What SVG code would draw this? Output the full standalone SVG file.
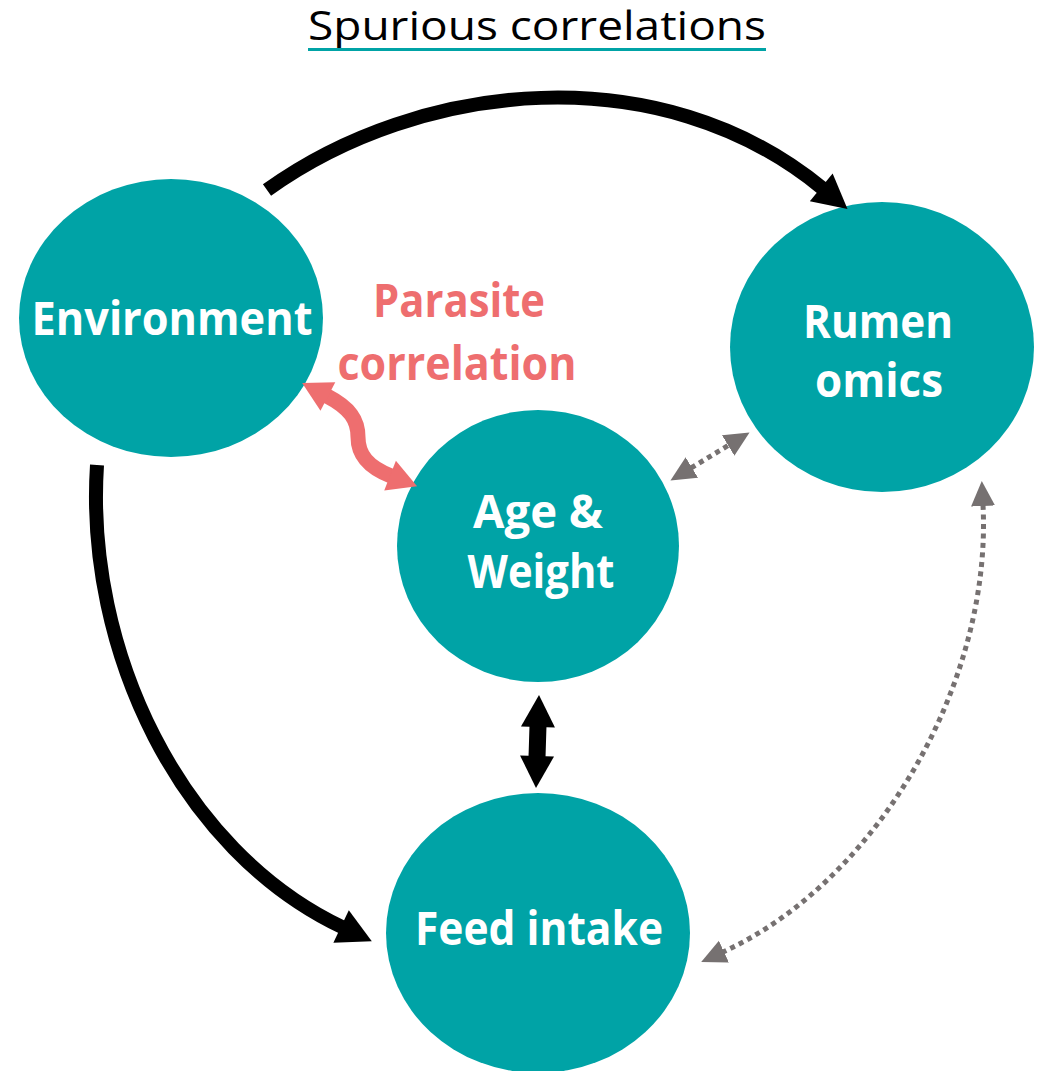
<svg xmlns="http://www.w3.org/2000/svg" width="1051" height="1071" viewBox="0 0 1051 1071">
<style>
.node{fill:#00A3A6;}
.lbl{font-family:"Open Sans","Liberation Sans",Arial,sans-serif;font-weight:bold;font-size:46px;fill:#FFFFFF;text-anchor:middle;}
.red{font-family:"Open Sans","Liberation Sans",Arial,sans-serif;font-weight:bold;font-size:46px;fill:#EE6E6F;text-anchor:middle;}
.title{font-family:"Open Sans","Liberation Sans",Arial,sans-serif;font-size:40px;fill:#000000;text-anchor:middle;}
.blk{fill:none;stroke:#000000;stroke-width:14;}
.dot{fill:none;stroke:#767171;stroke-width:5;stroke-dasharray:5 4.5;}
</style>
<defs>
<marker id="ahBlack" markerUnits="userSpaceOnUse" markerWidth="40" markerHeight="40" viewBox="0 -20 36 40" refX="1" refY="0" orient="auto-start-reverse"><path d="M0,-18 L34,0 L0,18 z" fill="#000000"/></marker>
<marker id="ahBlack2" markerUnits="userSpaceOnUse" markerWidth="40" markerHeight="40" viewBox="0 -20 36 40" refX="1" refY="0" orient="auto-start-reverse"><path d="M0,-17 L32,0 L0,17 z" fill="#000000"/></marker>
<marker id="ahRed" markerUnits="userSpaceOnUse" markerWidth="40" markerHeight="40" viewBox="0 -20 36 40" refX="1" refY="0" orient="auto-start-reverse"><path d="M0,-16 L29,0 L0,16 z" fill="#EE6E6F"/></marker>
<marker id="ahGray" markerUnits="userSpaceOnUse" markerWidth="30" markerHeight="30" viewBox="0 -15 30 30" refX="1" refY="0" orient="auto-start-reverse"><path d="M0,-12 L25,0 L0,12 z" fill="#767171"/></marker>
</defs>

<g id="title">
<text class="title" x="537" y="40" textLength="458" lengthAdjust="spacingAndGlyphs">Spurious correlations</text>
<rect x="308" y="48" width="458" height="3" fill="#00A3A6"/>
</g>

<g id="node-environment">
<ellipse class="node" cx="171" cy="318" rx="152" ry="139"/>
<text class="lbl" x="172" y="335" textLength="281" lengthAdjust="spacingAndGlyphs">Environment</text>
</g>
<g id="node-rumen">
<ellipse class="node" cx="882" cy="347" rx="152" ry="145"/>
<text class="lbl" x="878" y="338" textLength="150" lengthAdjust="spacingAndGlyphs">Rumen</text>
<text class="lbl" x="879" y="397" textLength="128" lengthAdjust="spacingAndGlyphs">omics</text>
</g>
<g id="node-age">
<ellipse class="node" cx="538" cy="546" rx="141" ry="136"/>
<text class="lbl" x="538" y="528" textLength="130" lengthAdjust="spacingAndGlyphs">Age &amp;</text>
<text class="lbl" x="541" y="588" textLength="147" lengthAdjust="spacingAndGlyphs">Weight</text>
</g>
<g id="node-feed">
<ellipse class="node" cx="538" cy="933" rx="152" ry="140"/>
<text class="lbl" x="539" y="945" textLength="248" lengthAdjust="spacingAndGlyphs">Feed intake</text>
</g>
<g id="label-parasite">
<text class="red" x="459" y="317" textLength="172" lengthAdjust="spacingAndGlyphs">Parasite</text>
<text class="red" x="457" y="380" textLength="239" lengthAdjust="spacingAndGlyphs">correlation</text>
</g>

<g id="connectors">
<path class="blk" d="M267,190 C420,80 660,55 822,188" marker-end="url(#ahBlack)"/>
<path class="blk" d="M97,465 C85,650 180,850 342,927" marker-end="url(#ahBlack)"/>
<path fill="none" stroke="#000000" stroke-width="17" d="M538,726 L537,757" marker-start="url(#ahBlack2)" marker-end="url(#ahBlack2)"/>
<path fill="none" stroke="#EE6E6F" stroke-width="15" d="M327,396 C350,408 358,420 358,437 C358,455 368,467 391,476" marker-start="url(#ahRed)" marker-end="url(#ahRed)"/>
<path class="dot" d="M691,468 L729,445" marker-start="url(#ahGray)" marker-end="url(#ahGray)"/>
<path class="dot" d="M983,505 C992,680 880,880 723,952" marker-start="url(#ahGray)" marker-end="url(#ahGray)"/>
</g>
</svg>
